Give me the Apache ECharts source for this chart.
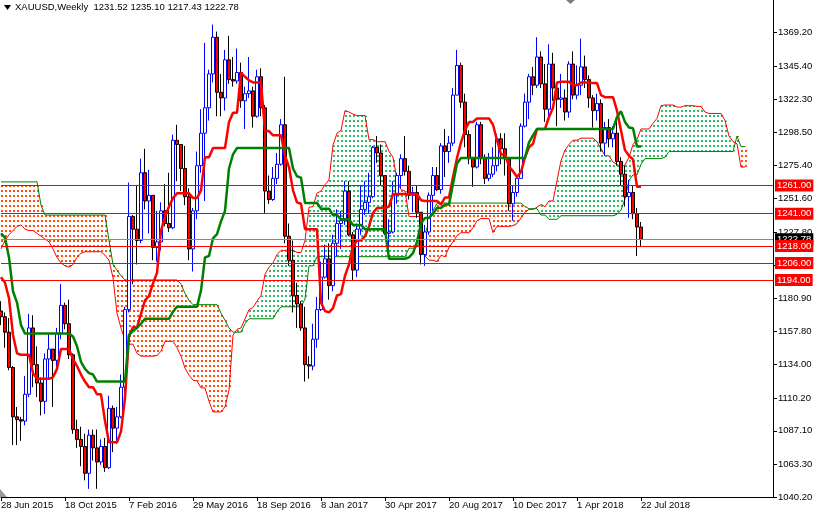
<!DOCTYPE html>
<html><head><meta charset="utf-8">
<script src="https://cdn.jsdelivr.net/npm/echarts@6/dist/echarts.min.js"></script>
<style>html,body{margin:0;padding:0;background:#fff}#c{width:814px;height:514px}</style>
</head><body><div id="c"></div>
<script>
const symbolName = 'XAUUSD,Weekly';
const dateTicks = ['28 Jun 2015','18 Oct 2015','7 Feb 2016','29 May 2016','18 Sep 2016','8 Jan 2017','30 Apr 2017','20 Aug 2017','10 Dec 2017','1 Apr 2018','22 Jul 2018'];
const weeksPerTick = 16;
const slotCount = 194;
const priceTicks = [1040.2,1063.3,1087.1,1110.2,1134.0,1157.8,1180.9,1204.7,1227.8,1251.6,1275.4,1298.5,1322.3,1345.4,1369.2];
const levels = [1261, 1241, 1218, 1206, 1194];

const open = [1172,1168,1157,1132,1097,1095,1094,1113,1160,1134,
1121,1108,1138,1145,1137,1156,1176,1163,1141,1088,
1081,1076,1057,1084,1075,1065,1076,1061,1103,1089,
1097,1118,1173,1239,1230,1222,1270,1250,1254,1217,
1221,1243,1234,1231,1293,1290,1273,1253,1216,1243,
1275,1298,1316,1340,1366,1327,1323,1350,1336,1335,
1341,1321,1326,1328,1310,1338,1316,1257,1251,1266,
1276,1304,1225,1208,1183,1177,1160,1134,1133,1152,
1173,1196,1209,1190,1220,1234,1236,1257,1226,1201,
1230,1244,1249,1253,1288,1284,1268,1227,1228,1254,
1268,1280,1271,1254,1256,1242,1212,1228,1254,1268,
1258,1289,1285,1291,1325,1346,1320,1297,1280,1274,
1304,1280,1266,1269,1275,1294,1287,1280,1248,1256,
1266,1303,1320,1338,1332,1352,1333,1315,1347,1330,
1322,1323,1313,1347,1325,1332,1345,1336,1323,1314,
1319,1291,1302,1294,1298,1278,1269,1253,1256,1241,
1231.52];
const high = [1179,1171,1167,1133,1104,1097,1126,1170,1169,1147,
1125,1142,1156,1145,1160,1191,1178,1180,1142,1095,
1090,1085,1088,1088,1088,1081,1082,1112,1105,1104,
1127,1175,1263,1240,1261,1280,1287,1272,1254,1243,
1249,1262,1270,1297,1304,1290,1289,1259,1245,1285,
1315,1362,1343,1375,1370,1340,1357,1367,1352,1358,
1348,1331,1352,1331,1343,1344,1318,1268,1274,1284,
1308,1338,1234,1222,1192,1179,1175,1140,1163,1182,
1207,1219,1220,1226,1244,1243,1264,1264,1228,1234,
1261,1264,1270,1289,1296,1290,1268,1237,1264,1270,
1283,1296,1275,1260,1261,1242,1233,1256,1274,1274,
1291,1301,1296,1330,1357,1348,1326,1300,1281,1306,
1306,1283,1284,1288,1297,1298,1298,1280,1261,1268,
1305,1326,1340,1345,1366,1356,1347,1361,1355,1334,
1340,1329,1349,1356,1346,1365,1353,1339,1325,1326,
1322,1306,1308,1303,1309,1281,1275,1265,1261,1245,
1235.10];
const low = [1162,1146,1130,1077,1077,1080,1091,1111,1118,1111,
1098,1099,1124,1104,1131,1152,1159,1138,1085,1075,
1062,1052,1046,1066,1046,1063,1058,1060,1072,1078,
1096,1111,1171,1191,1205,1220,1244,1227,1208,1207,
1215,1232,1228,1230,1264,1257,1247,1208,1200,1237,
1270,1250,1307,1334,1310,1310,1314,1333,1331,1333,
1316,1301,1323,1302,1309,1310,1241,1248,1250,1262,
1275,1220,1204,1171,1160,1158,1122,1124,1130,1146,
1172,1195,1180,1186,1211,1216,1233,1225,1194,1196,
1226,1240,1241,1252,1277,1261,1226,1214,1227,1248,
1259,1268,1251,1242,1238,1205,1204,1226,1243,1257,
1255,1267,1277,1289,1325,1316,1288,1276,1260,1273,
1276,1262,1264,1267,1271,1276,1268,1243,1236,1253,
1266,1302,1308,1325,1330,1330,1306,1310,1321,1303,
1316,1307,1309,1322,1322,1325,1330,1316,1302,1307,
1285,1282,1288,1288,1275,1261,1246,1238,1237,1211,
1217.43];
const close = [1168,1157,1132,1097,1095,1094,1113,1160,1134,1121,
1108,1138,1145,1137,1156,1176,1163,1141,1088,1081,
1076,1057,1084,1075,1065,1076,1061,1103,1089,1097,
1118,1173,1239,1230,1222,1270,1250,1254,1217,1221,
1243,1234,1231,1293,1290,1273,1253,1216,1243,1275,
1298,1316,1340,1366,1327,1323,1350,1336,1335,1341,
1321,1326,1328,1310,1338,1316,1257,1251,1266,1276,
1304,1225,1208,1183,1177,1160,1134,1133,1152,1173,
1196,1209,1190,1220,1234,1236,1257,1226,1201,1230,
1244,1249,1253,1288,1284,1268,1227,1228,1254,1268,
1280,1271,1254,1256,1242,1212,1228,1254,1268,1258,
1289,1285,1291,1325,1346,1320,1297,1280,1274,1304,
1280,1266,1269,1275,1294,1287,1280,1248,1256,1266,
1303,1320,1338,1332,1352,1333,1315,1347,1330,1322,
1323,1313,1347,1325,1332,1345,1336,1323,1314,1319,
1291,1302,1294,1298,1278,1269,1253,1256,1241,1231.52,
1222.78];

const tenkan = [1196,1192,1181,1155,1142,1141,1141,1141,1128,1124,
1124,1124,1124,1125,1131,1145,1145,1145,1138,1133,
1127,1122,1118,1118,1113,1113,1094,1079,1079,1079,
1086.5,1110.5,1154.5,1160.5,1160.5,1170,1179.5,1182.5,1191.5,1199,
1229,1239,1246,1252,1255.5,1255.5,1255.5,1255.5,1252,1252,
1257.5,1281,1281,1287.5,1287.5,1287.5,1287.5,1306,1312.5,1312.5,
1341,1338,1335.5,1334,1334,1334,1299.5,1299.5,1296.5,1296.5,
1296.5,1282,1274,1257.5,1249,1248,1230,1230,1230,1230,
1178,1172,1171,1174,1183,1184,1197,1205,1218,1222,
1222,1225,1232,1241.5,1245,1245,1245,1246,1255,1255,
1255,1255,1255,1255,1255,1250.5,1250,1250,1250,1250,
1247.5,1252.5,1252.5,1267,1280.5,1291.5,1300,1306,1306,1308.5,
1308.5,1308.5,1308.5,1304,1293,1283,1283,1274.5,1271,1267,
1270.5,1281,1288,1290.5,1301,1301,1301,1309.5,1316,1334,
1334.5,1334.5,1334.5,1332,1332,1334,1334,1334,1333.5,1333.5,
1325,1323.5,1323.5,1323.5,1314,1300,1286,1282,1279.5,1260,
1260];
const kijun = [1227,1224,1210,1186,1178,1162,1156,1156,1156,1156,
1156,1156,1156,1156,1156,1156,1156,1156,1154,1147,
1136,1131,1128,1127,1122,1122,1122,1122,1122,1122,
1122,1122,1155,1158,1160,1163,1166.5,1166.5,1166.5,1166.5,
1166.5,1166.5,1166.5,1171.5,1175,1175,1175,1175,1175,1175,
1186.5,1210,1211,1223.5,1226.5,1235.5,1243,1273,1283,1287.5,
1287.5,1287.5,1287.5,1287.5,1287.5,1287.5,1287.5,1287.5,1287.5,1287.5,
1287.5,1287.5,1287.5,1273,1267.5,1266.5,1248.5,1248.5,1248.5,1248.5,
1244.5,1244.5,1244.5,1240,1240,1237,1237,1237,1233,1233,
1233,1230,1230,1230,1230,1230,1230,1209,1209,1209,
1209,1209,1210,1213,1221,1234,1238,1238,1241,1245,
1245,1247.5,1247.5,1262,1276.5,1280.5,1280.5,1280.5,1280.5,1280.5,
1280.5,1280.5,1280.5,1280.5,1280.5,1280.5,1280.5,1280.5,1280.5,1280.5,
1280.5,1280.5,1291.5,1296.5,1301,1301,1301,1301,1301,1301,
1301,1301,1301,1301,1301,1301,1301,1301,1301,1301,
1301,1301,1301,1301,1309.5,1313.5,1306,1302,1301.5,1288.5,
1288.5];
const spanA = [1216,1222,1226,1229,1232,1233,1230,1229,1229,1227,
1225,1223,1221,1216,1210,1206,1204,1203,1205,1210,
1213,1214,1214,1214,1214,1214,1211.5,1208,1195.5,1170.5,
1160,1151.5,1148.5,1148.5,1142,1140,1140,1140,1140,1140.5,
1143.5,1150.5,1150.5,1150.5,1146,1140,1131.5,1126.5,1123,1122.5,
1117.5,1117.5,1108,1100.5,1100.5,1100.5,1104,1116,1155,1159,
1160,1166.5,1173,1174.5,1179,1183,1198,1203,1206,1212,
1215,1215,1215,1215,1213.5,1213.5,1222,1245.5,1246,1255.5,
1257,1261.5,1265,1289.5,1298,1300,1314,1313,1311.5,1310.5,
1310.5,1310.5,1293.5,1293.5,1292,1292,1292,1285,1281,1265,
1258,1257,1239,1239,1239,1239,1211,1208,1208,1207,
1211.5,1210.5,1217,1221,1225.5,1227.5,1227.5,1227.5,1231,1236,
1237.5,1237.5,1237.5,1227.5,1232,1232,1232,1232,1232.5,1234,
1238,1242,1244,1244,1245.5,1247.5,1246,1250,1250,1264.5,
1278.5,1286,1290,1293,1293,1294.5,1294.5,1294.5,1294.5,1292,
1287,1282,1282,1277.5,1276,1274,1275.5,1281,1290,1293.5,
1301,1301,1301,1305,1308.5,1317.5,1318,1318,1318,1316.5,
1316.5,1317.5,1317.5,1317.5,1317,1317,1313,1312,1312,1312,
1312,1307,1296,1292,1290.5,1274,1274];
const spanB = [1263.5,1263.5,1263.5,1263.5,1263.5,1263.5,1263.5,1263.5,1263.5,1263.5,
1247,1240,1240,1240,1240,1240,1240,1240,1240,1240,
1240,1240,1240,1240,1240,1240,1240,1222,1205,1201,
1197,1194,1194,1194,1194,1194,1194,1194,1194,1194,
1194,1194,1194,1194,1194,1191,1184.5,1179.5,1176.5,1176.5,
1176.5,1176.5,1176.5,1176.5,1176.5,1170.5,1165.5,1160,1157,1157,
1157,1163,1166.5,1166.5,1166.5,1166.5,1166.5,1166.5,1166.5,1171.5,
1175,1175,1175,1175,1175,1175,1180.5,1204,1204,1210.5,
1210.5,1210.5,1210.5,1210.5,1210.5,1210.5,1210.5,1210.5,1210.5,1210.5,
1210.5,1210.5,1210.5,1210.5,1210.5,1210.5,1210.5,1210.5,1210.5,1210.5,
1210.5,1210.5,1216.5,1216.5,1217.5,1223.5,1226.5,1235.5,1243,1248.5,
1248.5,1248.5,1248.5,1248.5,1248.5,1248.5,1248.5,1248.5,1248.5,1248.5,
1248.5,1248.5,1248.5,1248.5,1248.5,1248.5,1248.5,1248.5,1248.5,1248.5,
1248.5,1246,1244.5,1244.5,1244.5,1240,1240,1237,1237,1237,
1239.5,1239.5,1239.5,1239.5,1239.5,1239.5,1239.5,1239.5,1239.5,1239.5,
1239.5,1239.5,1239.5,1239.5,1240.5,1243.5,1251.5,1264.5,1268.5,1268.5,
1276,1280,1280,1280,1280,1280,1281,1285,1285,1285,
1285,1285,1285,1285,1285,1285,1285,1285,1285,1285,
1285,1285,1285,1285,1296,1288.5,1288.5];

const FONT = '"Liberation Sans", Arial, sans-serif';
const FS = 9.5;
const BULL_DOT = '#2fbf6a';
const BEAR_DOT = '#ff5010';
const slots = Array.from({length: slotCount}, (_, i) => String(i));
const candles = open.map((o, i) => [o, close[i], low[i], high[i]]);
// cloud built as stacked bars: invisible base up to the lower span, then the gap between spans
const cloudBase = spanA.map((a, j) => Math.min(a, spanB[j]));
const cloudUp = spanA.map((a, j) => a >= spanB[j] ? a - spanB[j] : '-');
const cloudDown = spanA.map((a, j) => a < spanB[j] ? spanB[j] - a : '-');
const last = open.length - 1;
const lastClose = close[last];
const isTick = (i) => i % weeksPerTick === 0 && (i / weeksPerTick) < dateTicks.length;
const titleText = symbolName + '  ' + [open[last], high[last], low[last], close[last]].map(v => v.toFixed(2)).join(' ');

function dotPattern(col) {
  const cv = document.createElement('canvas');
  cv.width = 4; cv.height = 5;
  const ctx = cv.getContext('2d');
  ctx.fillStyle = col;
  ctx.fillRect(1, 0, 2, 2);
  return {image: cv, repeat: 'repeat'};
}

const chart = echarts.init(document.getElementById('c'), null, {renderer: 'canvas'});
chart.setOption({
  animation: false,
  backgroundColor: '#ffffff',
  textStyle: {fontFamily: FONT},
  grid: {left: 1, right: 41, top: 0, bottom: 17, containLabel: false, outerBoundsMode: 'none'},
  xAxis: {
    type: 'category', data: slots, boundaryGap: false,
    axisLine: {show: true, lineStyle: {color: '#000', width: 1}},
    axisTick: {show: true, length: 4, interval: isTick, lineStyle: {color: '#000'}},
    axisLabel: {show: true, interval: isTick, formatter: (v) => dateTicks[Number(v) / weeksPerTick] || '',
      align: 'left', margin: 3, color: '#000', fontSize: FS, fontFamily: FONT},
    splitLine: {show: false}
  },
  yAxis: {
    type: 'value', position: 'right', min: 1040.2, max: 1392.4,
    axisLine: {show: true, lineStyle: {color: '#000', width: 1}},
    axisTick: {show: true, length: 4, customValues: priceTicks, lineStyle: {color: '#000'}},
    axisLabel: {show: true, customValues: priceTicks, formatter: (v) => Number(v).toFixed(2),
      color: '#000', fontSize: FS, fontFamily: FONT, margin: 5},
    splitLine: {show: false}
  },
  graphic: [
    {type: 'polygon', shape: {points: [[4, 5], [11, 5], [7.5, 10]]}, style: {fill: '#000'}, z: 100},
    {type: 'text', left: 15, top: 2, style: {text: titleText, font: FS + 'px ' + FONT, fill: '#000'}, z: 100},
    {type: 'polygon', shape: {points: [[566, 0], [575, 0], [570.5, 4]]}, style: {fill: '#808080'}, z: 100},
    {type: 'polygon', shape: {points: [[0, 489], [0, 497], [7, 497]]}, style: {fill: '#9a9a9a'}, z: 100}
  ],
  series: [
    {name: 'cloud base', type: 'bar', stack: 'cloud', data: cloudBase, barWidth: 4, z: 1, silent: true,
      itemStyle: {color: 'rgba(0,0,0,0)'}},
    {name: 'cloud up', type: 'bar', stack: 'cloud', data: cloudUp, barWidth: 4, z: 1, silent: true,
      itemStyle: {color: dotPattern(BULL_DOT)}},
    {name: 'cloud down', type: 'bar', stack: 'cloud', data: cloudDown, barWidth: 4, z: 1, silent: true,
      itemStyle: {color: dotPattern(BEAR_DOT)}},
    {name: 'Senkou A', type: 'line', data: spanA, z: 2, silent: true, showSymbol: false, symbol: 'none',
      lineStyle: {color: '#ff0000', width: 1}},
    {name: 'Senkou B', type: 'line', data: spanB, z: 2, silent: true, showSymbol: false, symbol: 'none',
      lineStyle: {color: '#008000', width: 1}},
    {
      name: 'XAUUSD', type: 'candlestick', data: candles, z: 3, barWidth: 3, silent: true,
      itemStyle: {color: '#ffffff', color0: '#ff0000', borderColor: '#0000ff', borderColor0: '#000000', borderWidth: 1}
    },
    {name: 'Tenkan', type: 'line', data: tenkan, z: 4, silent: true, showSymbol: false, symbol: 'none',
      lineStyle: {color: '#ff0000', width: 2.5}},
    {name: 'Kijun', type: 'line', data: kijun, z: 4, silent: true, showSymbol: false, symbol: 'none',
      lineStyle: {color: '#008000', width: 2.5}},
    {
      name: 'levels', type: 'line', data: [], z: 6, silent: true, showSymbol: false,
      markLine: {
        silent: true, symbol: ['none', 'none'], animation: false, precision: 2,
        lineStyle: {color: '#ff0000', width: 1, type: 'solid'},
        label: {show: true, position: 'end', distance: 2, formatter: (p) => Number(p.value).toFixed(2),
          color: '#ffffff', backgroundColor: '#ff0000', padding: [1, 2, 0, 2], lineHeight: 11,
          fontSize: FS, fontFamily: FONT},
        data: [{yAxis: lastClose, lineStyle: {color: '#7f8c99', width: 1, type: 'solid'},
                label: {backgroundColor: '#000000', color: '#ffffff'}}]
              .concat(levels.map(v => ({yAxis: v})))
      }
    }
  ]
});
</script>
</body></html>
